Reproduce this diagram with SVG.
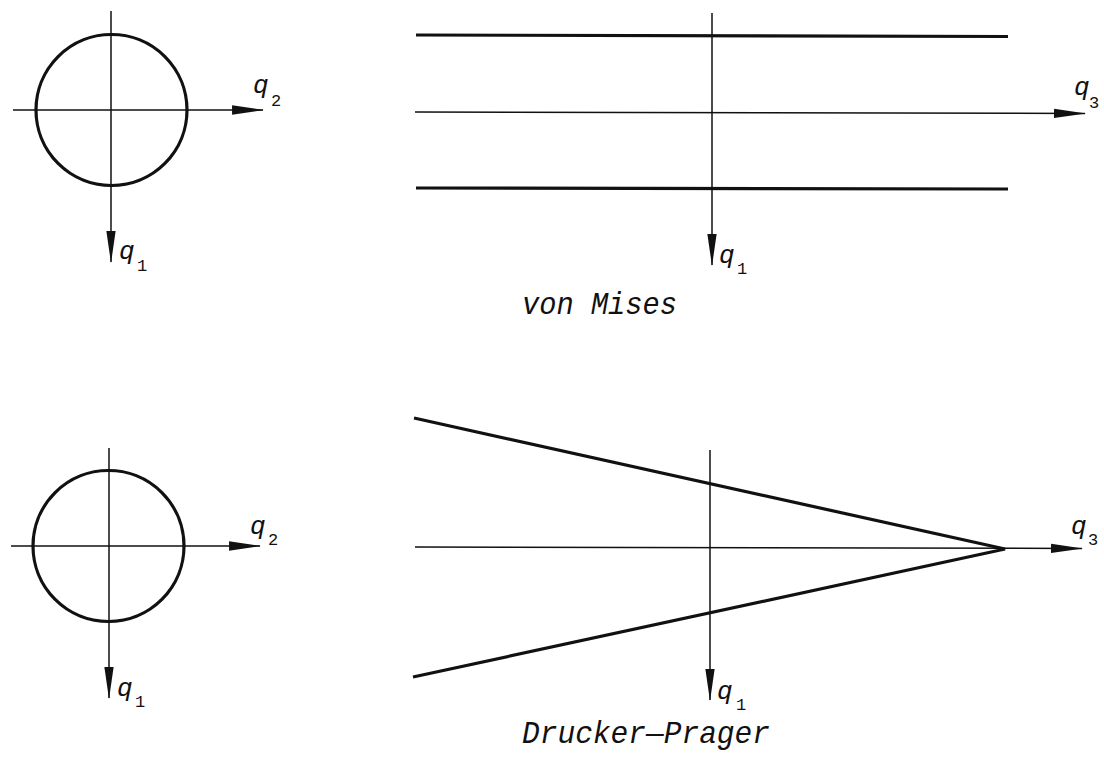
<svg xmlns="http://www.w3.org/2000/svg" width="1104" height="758" viewBox="0 0 1104 758">
<style>
.axis{stroke:#111;stroke-width:1.5;fill:none;marker-end:url(#arr)}
.bound{stroke:#111;stroke-width:3.2;fill:none}
.q{font-family:"Liberation Mono","DejaVu Sans Mono",monospace;font-style:italic;font-size:26px;fill:#111}
.sub{font-family:"Liberation Mono","DejaVu Sans Mono",monospace;font-size:17px;fill:#111}
.cap{font-family:"Liberation Mono","DejaVu Sans Mono",monospace;font-style:italic;font-size:32px;fill:#111}
</style>
<defs>
<marker id="arr" markerUnits="userSpaceOnUse" markerWidth="32" markerHeight="12" viewBox="0 0 31 10" refX="30" refY="5" orient="auto">
<path d="M0,0.5 L31,5 L0,9.5 z" fill="#111"/>
</marker>
</defs>
<g id="connectors">
<line class="axis" x1="111" y1="11" x2="111" y2="262"/>
<line class="axis" x1="13" y1="110" x2="263" y2="110"/>
<line class="axis" x1="712" y1="13" x2="712" y2="265"/>
<line class="axis" x1="415" y1="112" x2="1085" y2="113.5"/>
<line class="axis" x1="109" y1="448" x2="109" y2="698"/>
<line class="axis" x1="11" y1="546" x2="260" y2="546"/>
<line class="axis" x1="710" y1="450" x2="710" y2="700"/>
<line class="axis" x1="415" y1="547" x2="1082" y2="548.5"/>
</g>
<g id="vm-circle">
<circle class="bound" cx="111.5" cy="110" r="75.5"/>
</g>
<g id="vm-cylinder">
<line class="bound" x1="416" y1="35" x2="1008" y2="36.5"/>
<line class="bound" x1="416" y1="188" x2="1008" y2="189"/>
</g>
<g id="dp-circle">
<circle class="bound" cx="108.5" cy="546" r="75.5"/>
</g>
<g id="dp-cone">
<polyline class="bound" points="414,418 1005,549 413,677"/>
</g>
<g id="labels">
<text class="q" x="253" y="93">q</text><text class="sub" x="271" y="106">2</text>
<text class="q" x="119" y="259">q</text><text class="sub" x="137" y="271">1</text>
<text class="q" x="1074" y="95">q</text><text class="sub" x="1089" y="108">3</text>
<text class="q" x="719" y="263">q</text><text class="sub" x="737" y="274">1</text>
<text class="q" x="250" y="534">q</text><text class="sub" x="268" y="545">2</text>
<text class="q" x="117" y="696">q</text><text class="sub" x="135" y="707">1</text>
<text class="q" x="1071" y="534">q</text><text class="sub" x="1088" y="545">3</text>
<text class="q" x="717" y="699">q</text><text class="sub" x="736" y="710">1</text>
<text class="cap" x="522" y="314" textLength="155" lengthAdjust="spacingAndGlyphs">von Mises</text>
<text class="cap" x="522" y="743" textLength="248" lengthAdjust="spacingAndGlyphs">Drucker—Prager</text>
</g>
</svg>
